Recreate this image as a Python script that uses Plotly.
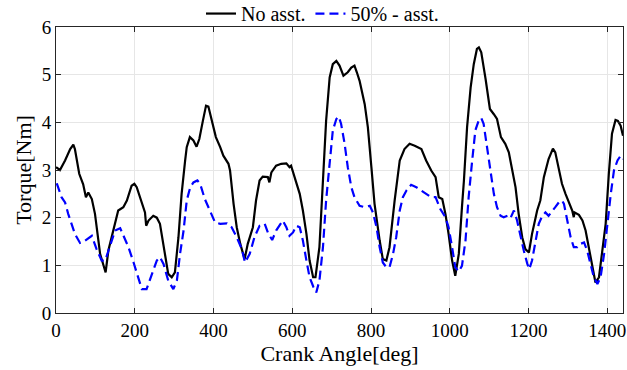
import plotly.graph_objects as go

no_asst_x = [0, 10, 23, 36, 44, 48, 59, 69, 76, 82, 91, 99, 112, 120, 126, 133, 146, 154, 158, 171,
             180, 192, 199, 205, 218, 226, 229, 235, 247, 256, 264, 273, 285, 294, 302, 311, 319, 328,
             332, 340, 349, 357, 364, 373, 381, 387, 396, 406, 417, 425, 438, 442, 451, 459, 468, 479,
             487, 500, 508, 517, 525, 538, 542, 547, 559, 572, 585, 593, 597, 606, 619, 627, 636, 644,
             653, 659, 669, 678, 686, 695, 703, 712, 720, 730, 741, 750, 758, 764, 771, 784, 792, 801,
             809, 822, 830, 839, 847, 860, 873, 885, 898, 911, 928, 940, 953, 964, 972, 981, 989, 997,
             1006, 1014, 1023, 1031, 1036, 1044, 1053, 1061, 1069, 1074, 1080, 1091, 1102, 1112, 1120,
             1130, 1141, 1150, 1158, 1167, 1175, 1184, 1192, 1201, 1209, 1222, 1230, 1239, 1251, 1262,
             1268, 1277, 1285, 1294, 1302, 1311, 1315, 1317, 1328, 1337, 1345, 1353, 1362, 1370, 1379,
             1387, 1396, 1404, 1412, 1421, 1427, 1434, 1440]
no_asst_y = [3.06, 3.0, 3.2, 3.44, 3.53, 3.44, 2.92, 2.7, 2.43, 2.53, 2.39, 2.08, 1.24, 0.99, 0.85, 1.31,
             1.73, 2.04, 2.15, 2.22, 2.36, 2.67, 2.71, 2.64, 2.32, 2.11, 1.83, 1.94, 2.04, 2.0, 1.87, 1.38,
             0.82, 0.75, 0.85, 1.59, 2.5, 3.2, 3.48, 3.69, 3.62, 3.49, 3.65, 4.03, 4.35, 4.33, 4.03, 3.69,
             3.48, 3.3, 3.13, 2.99, 2.29, 1.8, 1.45, 1.13, 1.45, 1.8, 2.36, 2.78, 2.86, 2.85, 2.74, 2.95,
             3.09, 3.13, 3.14, 3.06, 3.09, 2.85, 2.5, 2.15, 1.66, 1.1, 0.75, 0.75, 1.38, 2.78, 4.03, 4.94,
             5.22, 5.29, 5.19, 4.98, 5.05, 5.15, 5.19, 5.05, 4.87, 4.38, 3.9, 3.06, 2.29, 1.52, 1.13, 1.1,
             1.38, 2.36, 3.2, 3.44, 3.55, 3.51, 3.44, 3.2, 2.99, 2.85, 2.43, 2.39, 2.08, 1.66, 1.1, 0.78,
             1.24, 2.22, 2.78, 3.9, 4.73, 5.22, 5.54, 5.57, 5.47, 4.91, 4.28, 4.17, 4.07, 3.69, 3.55, 3.37,
             2.99, 2.64, 2.08, 1.59, 1.34, 1.27, 1.66, 2.15, 2.36, 2.85, 3.23, 3.45, 3.37, 2.99, 2.71, 2.5,
             2.32, 2.15, 2.01, 2.11, 2.06, 1.94, 1.73, 1.38, 0.96, 0.64, 0.75, 1.24, 1.87, 2.92, 3.76, 4.05,
             4.03, 3.93, 3.72]

asst_x = [2, 14, 23, 31, 48, 61, 74, 91, 103, 116, 125, 137, 150, 163, 171, 184, 197, 209, 218, 230,
          243, 256, 264, 273, 285, 298, 307, 315, 324, 332, 341, 349, 359, 366, 378, 391, 404, 417, 434,
          446, 459, 472, 480, 492, 504, 517, 530, 538, 549, 559, 576, 585, 593, 602, 610, 619, 627, 636,
          644, 654, 661, 669, 678, 686, 695, 703, 712, 718, 724, 733, 741, 750, 758, 771, 784, 797, 805,
          814, 822, 830, 839, 847, 856, 864, 873, 881, 890, 902, 915, 928, 940, 953, 964, 976, 989, 997,
          1006, 1014, 1023, 1031, 1040, 1048, 1057, 1065, 1074, 1080, 1086, 1095, 1103, 1112, 1120, 1129,
          1137, 1147, 1154, 1163, 1171, 1180, 1188, 1197, 1202, 1209, 1218, 1226, 1235, 1243, 1251, 1260,
          1268, 1277, 1285, 1290, 1298, 1307, 1315, 1324, 1332, 1341, 1349, 1358, 1366, 1375, 1383, 1392,
          1400, 1409, 1417, 1426, 1434, 1440]
asst_y = [2.72, 2.43, 2.32, 2.08, 1.66, 1.47, 1.52, 1.62, 1.34, 1.1, 1.1, 1.38, 1.73, 1.78, 1.62, 1.38,
          1.06, 0.71, 0.5, 0.5, 0.82, 1.1, 1.17, 1.03, 0.68, 0.5, 0.68, 1.24, 1.73, 2.36, 2.64, 2.74, 2.78,
          2.71, 2.39, 2.15, 1.9, 1.87, 1.88, 1.8, 1.59, 1.34, 1.06, 1.24, 1.59, 1.83, 1.87, 1.69, 1.53,
          1.73, 1.94, 1.8, 1.62, 1.69, 1.83, 1.8, 1.52, 1.1, 0.75, 0.54, 0.43, 0.68, 1.38, 2.36, 3.2, 3.83,
          4.07, 4.12, 3.97, 3.55, 3.06, 2.64, 2.43, 2.25, 2.22, 2.25, 2.11, 1.8, 1.38, 1.06, 0.96, 0.96,
          1.24, 1.59, 2.15, 2.43, 2.57, 2.69, 2.64, 2.57, 2.5, 2.43, 2.43, 2.18, 2.01, 1.8, 1.38, 0.96,
          0.87, 0.99, 1.52, 2.43, 3.2, 3.83, 4.05, 4.09, 3.97, 3.48, 2.99, 2.5, 2.22, 2.04, 2.01, 2.04,
          1.99, 2.15, 1.94, 1.59, 1.31, 1.03, 0.92, 1.1, 1.52, 1.87, 2.04, 2.11, 2.04, 2.15, 2.22, 2.32,
          2.36, 2.29, 1.94, 1.59, 1.38, 1.38, 1.45, 1.48, 1.31, 1.03, 0.75, 0.61, 0.75, 1.24, 1.87, 2.5,
          2.99, 3.2, 3.3, 3.23]

x_ticks = [0, 200, 400, 600, 800, 1000, 1200, 1400]
y_ticks = [0, 1, 2, 3, 4, 5, 6]

FONT = "Liberation Serif"

fig = go.Figure()
fig.add_trace(go.Scatter(x=no_asst_x, y=no_asst_y, mode="lines", name="No asst.",
                         line=dict(color="black", width=2.2)))
fig.add_trace(go.Scatter(x=asst_x, y=asst_y, mode="lines", name="50% - asst.",
                         line=dict(color="#0000FF", width=2.2, dash="9px,5px")))

axis_common = dict(
    showline=True, linecolor="#262626", linewidth=1, mirror="ticks",
    ticks="inside", ticklen=5, tickcolor="#262626",
    showgrid=True, gridcolor="#E6E6E6", gridwidth=1, zeroline=False,
    tickfont=dict(family=FONT, size=19, color="black"),
    automargin=False,
)

fig.update_layout(
    width=627, height=370,
    margin=dict(l=56, r=4, t=27, b=57, autoexpand=False),
    paper_bgcolor="white", plot_bgcolor="white",
    font=dict(family=FONT, color="black"),
    showlegend=True,
    legend=dict(orientation="h", x=0.47, xanchor="center", y=1.047, yanchor="middle",
                font=dict(family=FONT, size=20, color="black"),
                bgcolor="rgba(0,0,0,0)", itemwidth=30, tracegroupgap=0),
    xaxis=dict(range=[0, 1440], tickvals=x_ticks,
               title=dict(text="Crank Angle[deg]", font=dict(family=FONT, size=22), standoff=2),
               **axis_common),
    yaxis=dict(range=[0, 6], tickvals=y_ticks,
               title=dict(text="Torque[Nm]", font=dict(family=FONT, size=22), standoff=4),
               **axis_common),
)

fig.write_html("out.html")
